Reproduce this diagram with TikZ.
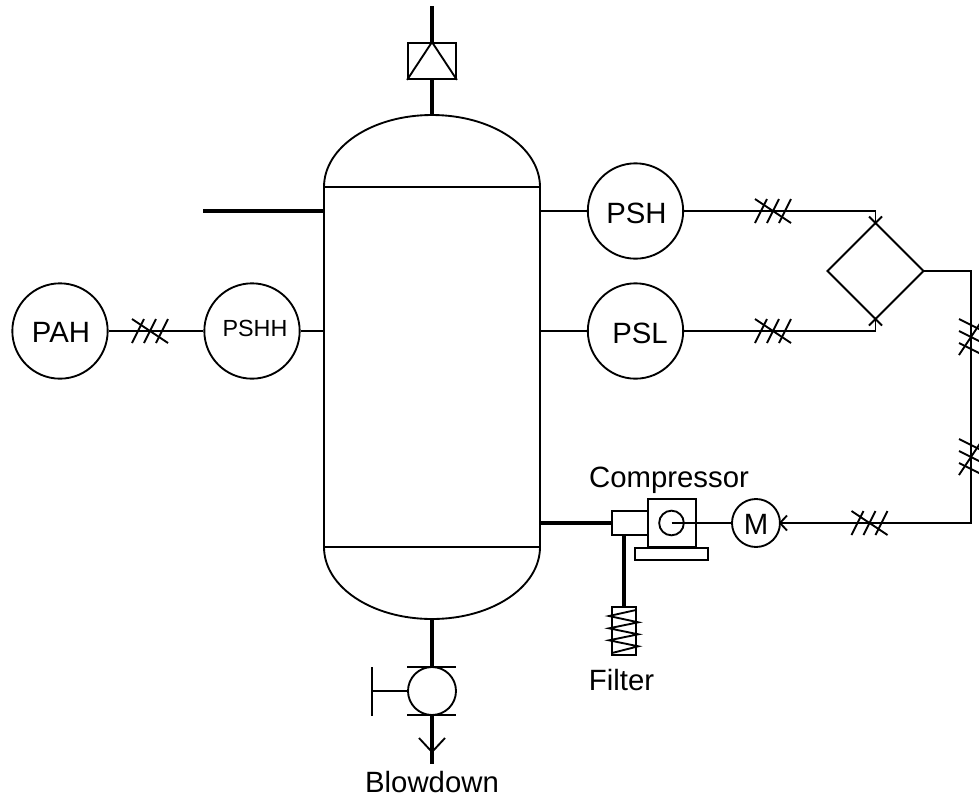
\documentclass[tikz,border=0pt]{standalone}
\usepackage{fontspec}
\setmainfont{Liberation Sans}
\tikzset{
  thin line/.style={line width=1.4pt,draw=black},
  thick line/.style={line width=3pt,draw=black},
  instr/.style={circle,draw=black,line width=1.4pt,fill=white,minimum size=71.5pt,inner sep=0pt},
  label text/.style={inner sep=0pt,anchor=base,font=\fontsize{22}{22}\selectfont},
  small text/.style={inner sep=0pt,anchor=base,font=\fontsize{17.5}{18}\selectfont},
  ticks/.pic={
    \draw[thin line] (-18,-12) -- (18,12);
    \draw[thin line] (-18,12) -- (-6,-12);
    \draw[thin line] (-6,12) -- (6,-12);
    \draw[thin line] (6,12) -- (18,-12);
  },
  vticks/.pic={
    \draw[thin line] (-12,-18) -- (12,-6);
    \draw[thin line] (-12,-6) -- (12,6);
    \draw[thin line] (-12,6) -- (12,18);
    \draw[thin line] (-12,18) -- (12,-18);
  }
}
\begin{document}
\begin{tikzpicture}[x=0.75pt,y=-0.75pt]
\useasboundingbox (0,0) rectangle (979,801);
% vessel
\coordinate (vtl) at (324,187);
\coordinate (vtr) at (540,187);
\coordinate (vbl) at (324,547);
\coordinate (vbr) at (540,547);
\coordinate (vtop) at (432,115);
\coordinate (vbot) at (432,619);
\draw[thin line] (vtl) .. controls (324,147) and (372,115) .. (vtop) .. controls (492,115) and (540,147) .. (vtr) -- (vbr) .. controls (540,587) and (492,619) .. (vbot) .. controls (372,619) and (324,587) .. (vbl) -- cycle;
\draw[thin line] (vtl) -- (vtr);
\draw[thin line] (vbl) -- (vbr);
% top relief valve
\coordinate (rtop) at (432,6);
\node[draw=black,line width=1.4pt,minimum width=36pt,minimum height=27pt,inner sep=0pt] (psv) at (432,61) {};
\draw[thin line] (psv.south west) -- (psv.north) -- (psv.south east);
\draw[thick line] (rtop) -- (psv.north);
\draw[thick line] (psv.south) -- (vtop);
% inlet
\coordinate (inl) at (203,211);
\coordinate (inr) at (324,211);
\draw[thick line] (inl) -- (inr);
% instruments
\node[instr] (psh) at (635.5,211) {};
\node[instr] (psl) at (635.5,331) {};
\node[instr] (psh2) at (252,331) {};
\node[instr] (pah) at (60,331) {};
\node[label text] (tpsh) at (636.5,223) {PSH};
\node[label text] (tpsl) at (640,343) {PSL};
\node[small text] (tpshh) at (255,336.7) {PSHH};
\node[label text] (tpah) at (61,342.7) {PAH};
\coordinate (a1) at (540,211);
\coordinate (a2) at (540,331);
\coordinate (a3) at (324,331);
\draw[thin line] (a1) -- (psh);
\draw[thin line] (a2) -- (psl);
\draw[thin line] (a3) -- (psh2);
\draw[thin line] (psh2) -- (pah);
% logic diamond
\coordinate (dt) at (875.5,223);
\coordinate (dr) at (923.5,271);
\coordinate (db) at (875.5,319);
\coordinate (dl) at (827.5,271);
\draw[thin line] (dt) -- (dr) -- (db) -- (dl) -- cycle;
\coordinate (c1) at (875.5,211);
\coordinate (c2) at (875.5,331);
\coordinate (c3) at (971,271);
\coordinate (c4) at (971,523);
\draw[thin line] (psh) -- (c1) -- (dt);
\draw[thin line] (psl) -- (c2) -- (db);
% motor + compressor
\node[draw=black,line width=1.4pt,circle,minimum size=36pt,inner sep=0pt,fill=white] (mot) at (756,523) {};
\node[label text] (tm) at (756,534.3) {M};
\draw[thin line] (dr) -- (c3) -- (c4) -- (mot);
\draw[thin line] (869,216.5) -- (875.5,223) -- (882,216.5);
\draw[thin line] (869,325.5) -- (875.5,319) -- (882,325.5);
\draw[thin line] (787,515.5) -- (780,523) -- (787,530.5);
\pic at (773,211) {ticks};
\pic at (773,331) {ticks};
\pic at (150,331) {ticks};
\pic at (869.5,523) {ticks};
\pic at (971,337) {vticks};
\pic at (971,457) {vticks};
\node[draw=black,line width=1.4pt,minimum width=36pt,minimum height=36pt,inner sep=0pt] (comp) at (672,523) {};
\node[draw=black,line width=1.4pt,minimum width=54.5pt,minimum height=9pt,inner sep=0pt,anchor=north] (base) at (671.5,547) {};
\node[draw=black,line width=1.4pt,minimum width=27pt,minimum height=18pt,inner sep=0pt] (cin) at (630,523) {};
\node[draw=black,line width=1.4pt,circle,minimum size=18.5pt,inner sep=0pt] (imp) at (671.5,523) {};
\draw[thin line] (imp.center) -- (mot);
\coordinate (noz) at (540,523);
\draw[thick line] (noz) -- (cin.west);
% filter
\node[draw=black,line width=1.4pt,minimum width=18pt,minimum height=36pt,inner sep=0pt] (filt) at (624,631) {};
\draw[thick line] (624,535) -- (filt.north);
\draw[thin line] (636,610) -- (609,616) -- (638.3,622.3) -- (609,628.3) -- (638.3,634.3) -- (609,640.3) -- (638.3,646.3) -- (612,653);
% blowdown valve
\node[draw=black,line width=1.4pt,circle,minimum size=36pt,inner sep=0pt] (bv) at (432,691) {};
\coordinate (bt1) at (407,667);
\coordinate (bt2) at (456,667);
\coordinate (bb1) at (407,715);
\coordinate (bb2) at (456,715);
\draw[thin line] (bt1) -- (bt2);
\draw[thin line] (bb1) -- (bb2);
\coordinate (hs) at (372,691);
\draw[thin line] (hs) -- (bv);
\draw[thin line] (372,667) -- (372,716);
\coordinate (bend) at (432,764);
\draw[thick line] (vbot) -- (bv);
\draw[thick line] (bv) -- (bend);
\draw[thin line] (419,738) -- (432,752) -- (445,738);
% labels
\node[label text] (t1) at (669,487) {Compressor};
\node[label text] (t2) at (621.5,690) {Filter};
\node[label text] (t3) at (432,792) {Blowdown};
\end{tikzpicture}
\end{document}
